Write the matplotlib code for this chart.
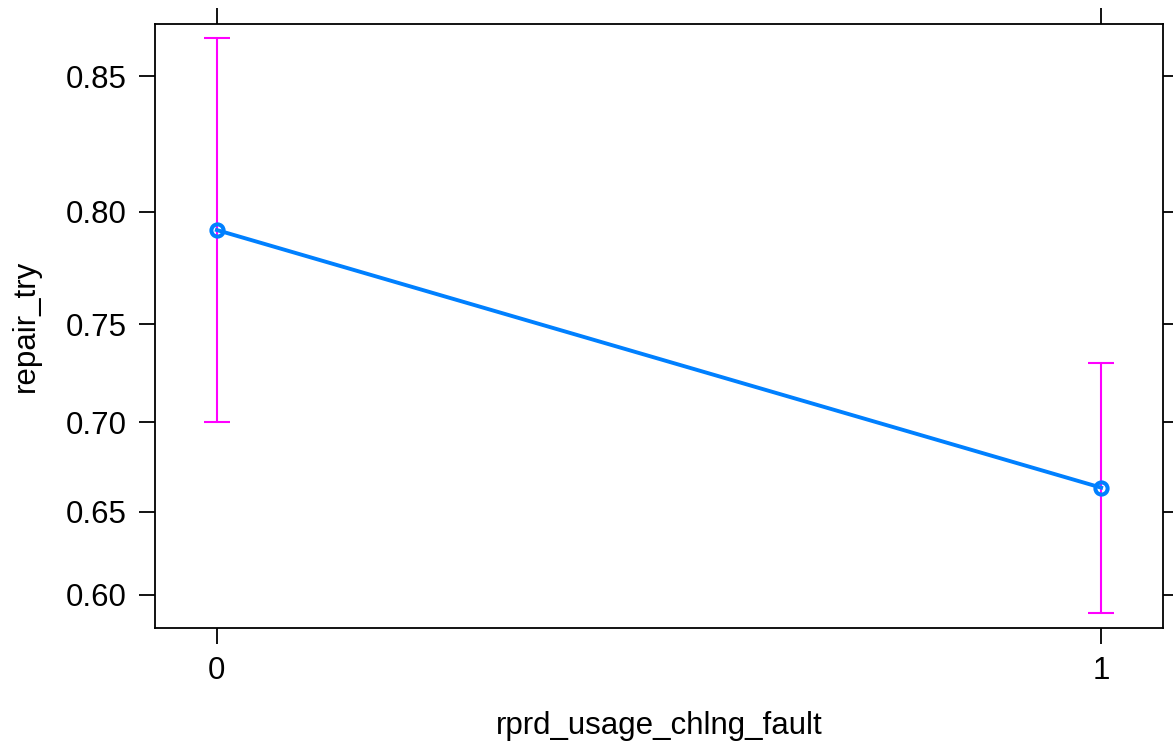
import matplotlib
matplotlib.use("Agg")
import matplotlib.pyplot as plt
from matplotlib.ticker import FixedLocator, FixedFormatter, NullLocator

plt.rcParams['font.family'] = ['Liberation Sans', 'DejaVu Sans']

x_vals = [0, 1]
fit = [0.7925, 0.6638]
lower = [0.700, 0.589]
upper = [0.862, 0.7308]
y_ticks = [0.60, 0.65, 0.70, 0.75, 0.80, 0.85]
y_ticklabels = ["0.60", "0.65", "0.70", "0.75", "0.80", "0.85"]
x_ticks = [0, 1]
x_ticklabels = ["0", "1"]
xlabel = "rprd_usage_chlng_fault"
ylabel = "repair_try"

fig = plt.figure(figsize=(11.73, 7.48), dpi=100)
ax = fig.add_axes([0.1321, 0.1604, 0.9915 - 0.1321, 0.9679 - 0.1604])
ax.set_yscale('logit')

yerr = [[f - l for f, l in zip(fit, lower)], [u - f for f, u in zip(fit, upper)]]
ax.errorbar(x_vals, fit, yerr=yerr, fmt='none', ecolor='#FF00FF', elinewidth=1.5,
            capsize=9.7, capthick=1.5, zorder=2)
ax.plot(x_vals, fit, color='#0080FF', lw=2.8, marker='o', markersize=8.8,
        markerfacecolor='none', markeredgewidth=2.9, markeredgecolor='#0080FF', zorder=3)

ax.set_xlim(-0.070, 1.070)
ax.set_ylim(0.5795, 0.8662)
ax.yaxis.set_major_locator(FixedLocator(y_ticks))
ax.yaxis.set_major_formatter(FixedFormatter(y_ticklabels))
ax.yaxis.set_minor_locator(NullLocator())
ax.xaxis.set_major_locator(FixedLocator(x_ticks))
ax.xaxis.set_major_formatter(FixedFormatter(x_ticklabels))
ax.xaxis.set_minor_locator(NullLocator())

ax.tick_params(axis='both', direction='out', length=11.5, width=1.3, labelsize=22.5,
               top=True, right=True, labeltop=False, labelright=False, color='black')
ax.tick_params(axis='y', pad=9)
ax.tick_params(axis='x', pad=9)
for s in ax.spines.values():
    s.set_linewidth(1.3)

ax.set_xlabel(xlabel, fontsize=22.5, labelpad=18)
ax.set_ylabel(ylabel, fontsize=22.5, labelpad=18)

fig.savefig("out.png", dpi=100)
